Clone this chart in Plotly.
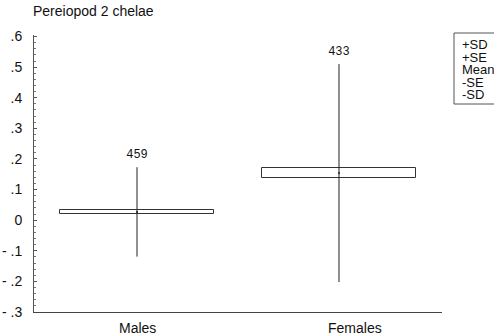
import plotly.graph_objects as go

# Summary statistics per sex
groups = ["Males", "Females"]
means = [0.027, 0.154]
se = [0.006, 0.015]
sd = [0.146, 0.356]
counts = [459, 433]

legend_items = ["+SD", "+SE", "Mean", "-SE", "-SD"]
ytick_vals = [0.6, 0.5, 0.4, 0.3, 0.2, 0.1, 0.0, -0.1, -0.2, -0.3]
ytick_text = [".6", ".5", ".4", ".3", ".2", ".1", "0", "- .1", "- .2", "- .3"]

W, H = 494, 336
L, R, T, B = 34, 52, 35, 24
PW, PH = W - L - R, H - T - B

def px(x):
    return (x - L) / PW

def py(y):
    return (H - B - y) / PH

FONT = "Liberation Sans Narrow, Arial Narrow, Liberation Sans, Arial, sans-serif"
xpos = [1, 2]

fig = go.Figure()

# SE boxes
fig.add_trace(go.Bar(
    x=xpos,
    y=[2 * s for s in se],
    base=[m - s for m, s in zip(means, se)],
    width=0.76,
    marker=dict(color="white", line=dict(color="#333333", width=1)),
    hoverinfo="skip",
))

# SD whiskers
wx, wy = [], []
for x, m, s in zip(xpos, means, sd):
    wx += [x, x, None]
    wy += [m - s, m + s, None]
fig.add_trace(go.Scatter(
    x=wx, y=wy, mode="lines",
    line=dict(color="#222222", width=1),
    hoverinfo="skip",
))

# Means
fig.add_trace(go.Scatter(
    x=xpos, y=means, mode="markers",
    marker=dict(color="#222222", size=2),
    hoverinfo="skip",
))

# Sample sizes above whiskers
fig.add_trace(go.Scatter(
    x=xpos, y=[m + s for m, s in zip(means, sd)],
    mode="markers+text",
    marker=dict(size=8, opacity=0),
    text=[str(n) for n in counts],
    textposition="top center",
    textfont=dict(family="Liberation Mono, DejaVu Sans Mono, monospace", size=12, color="#111111"),
    hoverinfo="skip",
))

annotations = [
    dict(text="Pereiopod 2 chelae", xref="paper", yref="paper",
         x=px(31), y=py(11), xanchor="left", yanchor="middle",
         showarrow=False, font=dict(family=FONT, size=14, color="#111111")),
]
label_x = [1.0, 2.08]
for gx, g in zip(label_x, groups):
    annotations.append(dict(text=g, xref="x", yref="paper", x=gx, y=py(328),
                            xanchor="center", yanchor="middle", showarrow=False,
                            font=dict(family=FONT, size=14, color="#111111")))
legend_y = [45, 57, 69, 82, 94]
for ly, item in zip(legend_y, legend_items):
    annotations.append(dict(text=item, xref="paper", yref="paper", x=px(461), y=py(ly),
                            xanchor="left", yanchor="middle", showarrow=False,
                            borderpad=0,
                            font=dict(family=FONT, size=13, color="#111111")))

fig.update_layout(
    width=W, height=H,
    margin=dict(l=L, r=R, t=T, b=B, autoexpand=False),
    paper_bgcolor="white", plot_bgcolor="white",
    showlegend=False,
    bargap=0,
    annotations=annotations,
    shapes=[dict(type="rect", xref="paper", yref="paper",
                 x0=px(454), x1=px(505), y0=py(104), y1=py(33),
                 line=dict(color="#555555", width=1), fillcolor="rgba(0,0,0,0)")],
    xaxis=dict(range=[0.49, 2.51], showgrid=False, zeroline=False,
               showline=True, linecolor="#444444", linewidth=1,
               showticklabels=False, ticks="", automargin=False),
    yaxis=dict(range=[-0.3, 0.605], showgrid=False, zeroline=False,
               showline=True, linecolor="#555555", linewidth=1,
               tickvals=ytick_vals, ticktext=ytick_text,
               ticks="inside", ticklen=3, tickcolor="#555555",
               ticklabelstandoff=8, automargin=False,
               minor=dict(dtick=0.02, ticks="inside", ticklen=2, tickcolor="#777777"),
               tickfont=dict(family=FONT, size=14, color="#111111")),
)

fig.write_html("out.html")
